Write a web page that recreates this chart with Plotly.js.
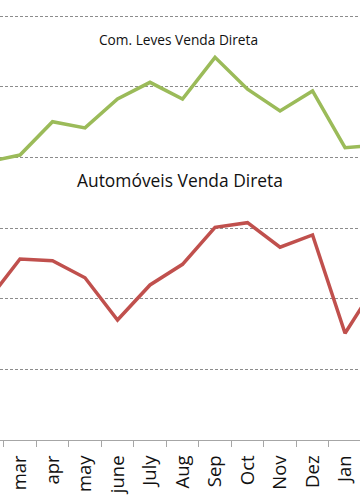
<!DOCTYPE html>
<html>
<head>
<meta charset="utf-8">
<script src="https://cdn.plot.ly/plotly-3.0.1.min.js"></script>
<style>html,body{margin:0;padding:0;background:#fff;}#chart{width:360px;height:504px;}</style>
</head>
<body>
<div id="chart"></div>
<script>
const months = ["feb", "mar", "apr", "may", "june", "July", "Aug", "Sep", "Oct", "Nov", "Dez", "Jan", "Feb"];
const comLevesVendaDireta = [1969, 2018, 2254, 2210, 2415, 2533, 2415, 2710, 2484, 2330, 2472, 2070, 2089];
const automoveisVendaDireta = [984, 1282, 1270, 1149, 850, 1098, 1244, 1506, 1539, 1365, 1452, 756, 1119];
const titleComLeves = "Com. Leves Venda Direta";
const titleAutomoveis = "Automóveis Venda Direta";

const traces = [
  {x: months, y: comLevesVendaDireta, type: "scatter", mode: "lines",
   line: {color: "#9bbb59", width: 3.5}, hoverinfo: "none"},
  {x: months, y: automoveisVendaDireta, type: "scatter", mode: "lines",
   line: {color: "#c0504d", width: 3.5}, hoverinfo: "none"}
];

const layout = {
  width: 360, height: 504,
  margin: {l: 0, r: 0, t: 0, b: 64, pad: 0},
  paper_bgcolor: "#ffffff", plot_bgcolor: "#ffffff",
  showlegend: false,
  font: {family: "Open Sans, sans-serif", color: "#111"},
  xaxis: {
    type: "category", range: [0.385, 11.46],
    tickson: "boundaries", ticks: "outside", ticklen: 6, tickcolor: "#a6a6a6", tickwidth: 1,
    showline: true, linecolor: "#a6a6a6", linewidth: 1,
    showgrid: false, tickangle: -90, ticklabelstandoff: 7,
    tickfont: {family: "Open Sans, sans-serif", size: 18.5, color: "#111"}
  },
  yaxis: {
    range: [0, 3116], dtick: 500, tick0: 0,
    showticklabels: false, ticks: "",
    showgrid: true, gridcolor: "#8c8c8c", gridwidth: 1, griddash: "3px,2px",
    zeroline: false, showline: false
  },
  annotations: [
    {text: titleComLeves, xref: "paper", yref: "paper", x: 0.497, y: 0.911,
     xanchor: "center", yanchor: "middle", showarrow: false,
     font: {family: "Open Sans, sans-serif", size: 13.7, color: "#111"}},
    {text: titleAutomoveis, xref: "paper", yref: "paper", x: 0.499, y: 0.591,
     xanchor: "center", yanchor: "middle", showarrow: false,
     font: {family: "Open Sans, sans-serif", size: 17.4, color: "#111"}}
  ]
};

Plotly.newPlot("chart", traces, layout, {staticPlot: true, displayModeBar: false});
</script>
</body>
</html>
